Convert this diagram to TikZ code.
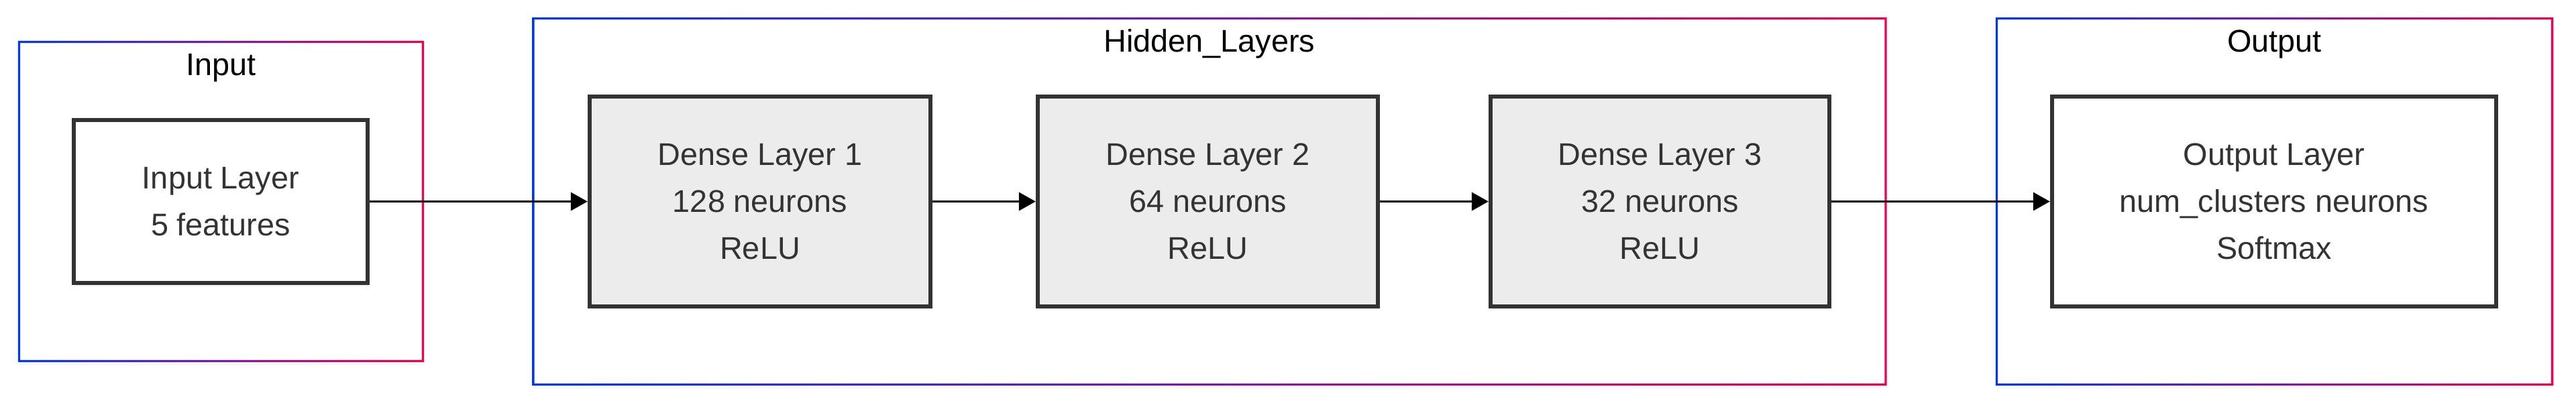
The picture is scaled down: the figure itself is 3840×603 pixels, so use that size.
\documentclass[tikz,border=0pt]{standalone}
\usepackage{fontspec}
\setmainfont{Liberation Sans}
\usetikzlibrary{arrows.meta,shadows}
\definecolor{boxline}{HTML}{333333}
\definecolor{densefill}{HTML}{ECECEC}
\definecolor{frameblue}{HTML}{0037F0}
\definecolor{framered}{HTML}{F0004E}
\tikzset{
% Cluster frames, layer boxes and the flow arrows
cluster/.style={rectangle,inner sep=0,outer sep=0,fill=white,drop shadow={opacity=0.06,shadow xshift=0.02cm,shadow yshift=-0.05cm}},
cluster title/.style={anchor=base,text=black},
layer/.style={rectangle,draw=boxline,line width=1.7pt,fill=white,text=boxline,align=center,drop shadow={opacity=0.1,shadow xshift=0.02cm,shadow yshift=-0.05cm}},
dense layer/.style={layer,fill=densefill},
flow/.style={draw=black,line width=1pt,-{Triangle[length=0.25cm,width=0.27cm]}}
}

\begin{document}
\begin{tikzpicture}[x=0.01cm,y=-0.01cm,font=\fontsize{13.3}{19.9}\selectfont]
\useasboundingbox (0,0) rectangle (3840,603);
% Clusters
\node(in)[cluster,minimum width=6.05cm,minimum height=4.79cm] at (329.5,300.5){};
\node(hid)[cluster,minimum width=20.18cm,minimum height=5.49cm] at (1803,300.5){};
\node(out)[cluster,minimum width=8.31cm,minimum height=5.49cm] at (3390.5,300.5){};
% gradient frames
\foreach \c in {in,hid,out}
\shade[left color=frameblue,right color=framered,even odd rule] (\c.north west) rectangle (\c.south east) ([shift={(0.033cm,-0.033cm)}]\c.north west) rectangle ([shift={(-0.033cm,0.033cm)}]\c.south east);
\node(inT)[cluster title] at ([yshift=-0.52cm]in.north){Input};
\node(hidT)[cluster title] at ([yshift=-0.52cm]hid.north){Hidden\_Layers};
\node(outT)[cluster title] at ([yshift=-0.52cm]out.north){Output};
% Layers
\node(il)[layer,minimum width=4.38cm,minimum height=2.43cm] at (329,300.5){Input Layer\\5 features};
\node(d1)[dense layer,minimum width=5.08cm,minimum height=3.13cm] at (1133,300.5){Dense Layer 1\\128 neurons\\ReLU};
\node(d2)[dense layer,minimum width=5.07cm,minimum height=3.13cm] at (1800.5,300.5){Dense Layer 2\\64 neurons\\ReLU};
\node(d3)[dense layer,minimum width=5.05cm,minimum height=3.13cm] at (2474.5,300.5){Dense Layer 3\\32 neurons\\ReLU};
\node(ol)[layer,minimum width=6.62cm,minimum height=3.13cm] at (3390,300.5){Output Layer\\num\_clusters neurons\\Softmax};
% Flow
\draw[flow](il)--(d1);
\draw[flow](d1)--(d2);
\draw[flow](d2)--(d3);
\draw[flow](d3)--(ol);
\end{tikzpicture}
\end{document}
